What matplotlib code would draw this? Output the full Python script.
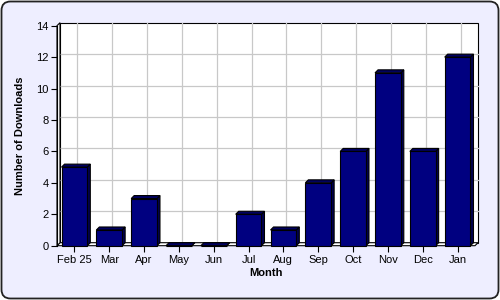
import matplotlib.pyplot as plt
from matplotlib.patches import Polygon, Rectangle, FancyBboxPatch
from matplotlib.transforms import IdentityTransform

# downloads per month
months = ["Feb 25", "Mar", "Apr", "May", "Jun", "Jul", "Aug", "Sep", "Oct", "Nov", "Dec", "Jan"]
downloads = [5, 1, 3, 0, 0, 2, 1, 4, 6, 11, 6, 12]
y_ticks = [0, 2, 4, 6, 8, 10, 12, 14]

plt.rcParams['font.family'] = ['Liberation Sans', 'DejaVu Sans']

W, H = 500, 300
fig = plt.figure(figsize=(5, 3), dpi=100)
fig.patch.set_facecolor('white')

# rounded lavender panel behind everything (pixel coords)
panel = FancyBboxPatch((1.5, 1.5), 497, 297,
                       boxstyle="round,pad=0,rounding_size=9",
                       transform=IdentityTransform(), facecolor='#EEEEFF',
                       edgecolor='#222222', linewidth=1.3, zorder=-10)
fig.add_artist(panel)

ax_l, ax_r, ax_top, ax_bot = 57, 475, 25.7, 245.7
ax = fig.add_axes([ax_l / W, 1 - ax_bot / H, (ax_r - ax_l) / W, (ax_bot - ax_top) / H])
ax.set_zorder(1)
ax.set_facecolor('none')
n = len(months)
ax.set_xlim(-0.5, n - 0.5)
ax.set_ylim(0, 14)

# 3d offset (3 px right, 3 px up) in data units
dx = 3 * n / (ax_r - ax_l)
dy = 3 * 14 / (ax_bot - ax_top)
x0, x1 = -0.5, n - 0.5
edge = dict(edgecolor='black', linewidth=0.8, clip_on=False)

# back wall, floor, left wall
ax.add_patch(Rectangle((x0 + dx, dy), n, 14, facecolor='white', zorder=1, **edge))
for yv in y_ticks[1:-1]:
    ax.plot([x0 + dx, x1 + dx], [yv + dy, yv + dy], color='#C8C8C8', lw=0.9, zorder=1.5, clip_on=False)
for i in range(n):
    ax.plot([i + dx, i + dx], [dy, 14 + dy], color='#C8C8C8', lw=0.9, zorder=1.5, clip_on=False)
ax.add_patch(Polygon([(x0, 0), (x1, 0), (x1 + dx, dy), (x0 + dx, dy)],
                     facecolor='white', zorder=2, **edge))
ax.add_patch(Polygon([(x0, 0), (x0, 14), (x0 + dx, 14 + dy), (x0 + dx, dy)],
                     facecolor='white', zorder=2, **edge))

# bars with top and side faces
bw = 0.74
for i, v in enumerate(downloads):
    l, r = i - bw / 2, i + bw / 2
    ax.add_patch(Polygon([(r, 0), (r + dx, dy), (r + dx, v + dy), (r, v)],
                         facecolor='#000050', zorder=3, **edge))
    ax.add_patch(Polygon([(l, v), (r, v), (r + dx, v + dy), (l + dx, v + dy)],
                         facecolor='#000060', zorder=3, **edge))
    ax.add_patch(Rectangle((l, 0), bw, v, facecolor='#000080', zorder=4, **edge))

for s in ['top', 'right', 'bottom']:
    ax.spines[s].set_visible(False)
ax.spines['left'].set_linewidth(0.8)
ax.spines['left'].set_zorder(5)

ax.set_xticks(range(n))
ax.set_xticklabels(months, fontsize=8)
ax.set_yticks(y_ticks)
ax.set_yticklabels([str(t) for t in y_ticks], fontsize=8)
ax.tick_params(axis='both', length=4, width=0.8, pad=2, colors='black')
ax.tick_params(axis='x', pad=2.5)

ax.set_xlabel("Month", fontsize=8, fontweight='bold', labelpad=2)
ax.set_ylabel("Number of Downloads", fontsize=8, fontweight='bold', labelpad=8)

fig.savefig("out.png", dpi=100, facecolor=fig.get_facecolor())
